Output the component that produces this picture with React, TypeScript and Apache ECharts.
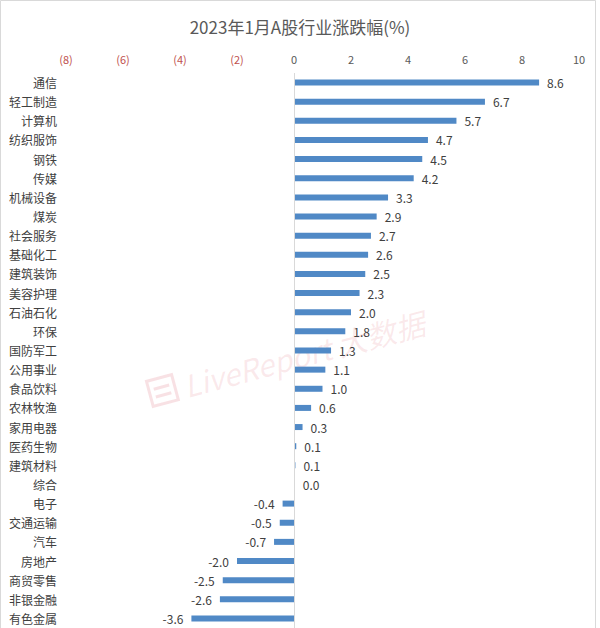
import React, { useEffect, useRef } from "react";
import * as echarts from "echarts";

const categories = [
  "通信", "轻工制造", "计算机", "纺织服饰", "钢铁", "传媒", "机械设备", "煤炭",
  "社会服务", "基础化工", "建筑装饰", "美容护理", "石油石化", "环保", "国防军工",
  "公用事业", "食品饮料", "农林牧渔", "家用电器", "医药生物", "建筑材料", "综合",
  "电子", "交通运输", "汽车", "房地产", "商贸零售", "非银金融", "有色金属",
];
const values = [
  8.6, 6.7, 5.7, 4.7, 4.5, 4.2, 3.3, 2.9, 2.7, 2.6, 2.5, 2.3, 2.0, 1.8, 1.3,
  1.1, 1.0, 0.6, 0.3, 0.08, 0.05, 0.03, -0.4, -0.5, -0.7, -2.0, -2.5, -2.6, -3.6,
];
const titleText = "2023年1月A股行业涨跌幅(%)";
const xMin = -8;
const xMax = 10;
const xStep = 2;

const FONT = "'Noto Sans CJK SC', 'Noto Sans', sans-serif";

export default function App() {
  const ref = useRef<HTMLDivElement>(null);
  useEffect(() => {
    if (!ref.current) return;
    const chart = echarts.init(ref.current, null, { renderer: "svg" });
    const seriesData = values.map((v) =>
      v < 0 ? { value: v, label: { position: "left" } } : { value: v }
    );
    chart.setOption({
      animation: false,
      backgroundColor: "#ffffff",
      textStyle: { fontFamily: FONT },
      title: {
        text: titleText,
        left: "center",
        top: 13,
        textStyle: { fontSize: 17, fontWeight: "normal", color: "#595959", fontFamily: FONT },
      },
      grid: { left: 66, right: 21, top: 73, bottom: 0, containLabel: false },
      xAxis: {
        type: "value",
        position: "top",
        min: xMin,
        max: xMax,
        interval: xStep,
        axisLine: { show: false },
        axisTick: { show: false },
        splitLine: { show: false },
        axisLabel: {
          margin: 9,
          fontSize: 11,
          fontFamily: FONT,
          color: (v: number) => (v < 0 ? "#C0504D" : "#595959"),
          formatter: (v: number) => (v < 0 ? `(${Math.abs(v)})` : `${v}`),
        },
      },
      yAxis: {
        type: "category",
        data: categories,
        inverse: true,
        axisLine: { show: false },
        axisTick: { show: false },
        axisLabel: { margin: 9, fontSize: 12, color: "#404040", fontFamily: FONT },
      },
      graphic: [
        {
          type: "rect",
          shape: { x: 0.5, y: 0.5, width: 595, height: 640 },
          style: { fill: "none", stroke: "#d9d9d9", lineWidth: 1 },
          silent: true,
          z: 0,
        },
        {
          type: "group",
          x: 295,
          y: 356,
          rotation: (15 * Math.PI) / 180,
          silent: true,
          z: 0,
          children: [
            {
              type: "rect",
              shape: { x: -150, y: -14, width: 26, height: 26 },
              style: { fill: "none", stroke: "rgba(225,120,130,0.22)", lineWidth: 3 },
            },
            {
              type: "rect",
              shape: { x: -145, y: -6, width: 16, height: 3 },
              style: { fill: "rgba(225,120,130,0.22)" },
            },
            {
              type: "rect",
              shape: { x: -145, y: 2, width: 16, height: 3 },
              style: { fill: "rgba(225,120,130,0.22)" },
            },
            {
              type: "text",
              style: {
                text: "LiveReport 大数据",
                x: -115,
                y: 0,
                fontSize: 30,
                fontFamily: FONT,
                fontStyle: "italic",
                fill: "rgba(225,120,130,0.16)",
                verticalAlign: "middle",
              },
            },
          ],
        },
      ],
      series: [
        {
          type: "bar",
          data: seriesData,
          barWidth: 6,
          z: 3,
          itemStyle: { color: "#5089C6" },
          label: {
            show: true,
            fontSize: 12,
            color: "#404040",
            fontFamily: FONT,
            distance: 8,
            position: "right",
            formatter: (p: any) => Number(p.value).toFixed(1),
          },
          markLine: {
            silent: true,
            symbol: "none",
            label: { show: false },
            lineStyle: { color: "#d9d9d9", type: "solid", width: 1 },
            data: [{ xAxis: 0 }],
          },
        },
      ],
    });
    return () => chart.dispose();
  }, []);
  return (
    <div
      ref={ref}
      style={{ position: "fixed", left: 0, top: 0, width: 600, height: 628 }}
    />
  );
}
